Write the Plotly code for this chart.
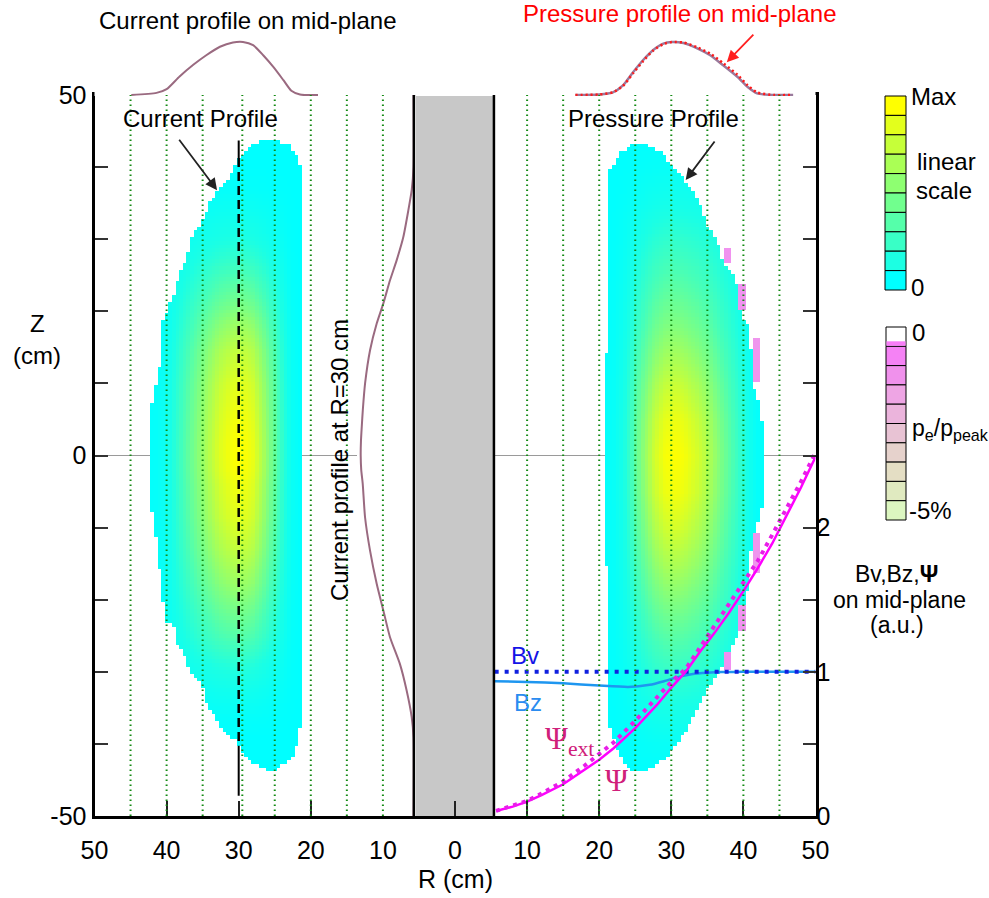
import numpy as np
import plotly.graph_objects as go

W, H = 989, 898
FONT = "Liberation Sans, Arial, sans-serif"
SERIF = "Liberation Serif, Times New Roman, serif"

# ---------------- data ----------------
# Normalised toroidal current density on the mid-plane (left half, R in cm, negative side)
R_cur_mid = [-44.9, -41.4, -40.0, -38.2, -36.3, -34.5, -32.6, -30.8, -29.4, -28.0,
             -26.6, -25.2, -23.8, -22.7, -21.5, -19.0]
j_cur_mid = [0.0, 0.04, 0.11, 0.35, 0.57, 0.75, 0.91, 0.99, 1.0, 0.94,
             0.75, 0.53, 0.28, 0.08, 0.01, 0.0]

# Normalised current density along Z at R = 30 cm
Z_cur_cut = [50.0, 40.0, 36.8, 34.0, 30.3, 27.1, 24.3, 21.1, 18.3, 14.6, 10.0, 6.3, 4.0, 2.0,
             0.0, -2.0, -3.9, -8.6, -13.2, -17.8, -21.5, -25.2, -28.9, -32.6, -36.3, -39.1, -50.0]
j_cur_cut = [0.0, 0.0, 0.034, 0.098, 0.193, 0.318, 0.445, 0.571, 0.697, 0.823, 0.917, 0.96, 0.98, 0.995,
             1.0, 0.99, 0.962, 0.917, 0.823, 0.697, 0.571, 0.445, 0.258, 0.13, 0.034, 0.0, 0.0]

# Normalised pressure on the mid-plane (right half): equilibrium and reference profile
R_pres_mid = [16.7, 20.0, 21.9, 23.3, 24.7, 26.1, 27.5, 28.9, 30.1, 31.7, 33.6, 35.4,
              37.2, 39.2, 40.6, 41.9, 44.2, 46.9]
p_mid = [0.0, 0.01, 0.05, 0.18, 0.43, 0.66, 0.85, 0.97, 1.0, 0.98, 0.88, 0.75,
         0.56, 0.34, 0.15, 0.03, 0.0, 0.0]
p_mid_ref = [0.0, 0.01, 0.05, 0.17, 0.41, 0.64, 0.84, 0.96, 1.0, 0.99, 0.90, 0.78,
             0.60, 0.38, 0.18, 0.05, 0.0, 0.0]

# Normalised pressure along Z through the pressure peak
Z_pres_cut = [45, 40, 35, 30, 25, 20, 15, 10, 5, 0, -5, -10, -15, -20, -25, -30, -35, -40, -45]
p_cut = [0.0, 0.05, 0.15, 0.30, 0.43, 0.56, 0.70, 0.84, 0.95, 1.0, 0.97, 0.88, 0.76, 0.62,
         0.47, 0.32, 0.18, 0.06, 0.0]

# Plasma boundary of the current distribution (Z, outer R, inner R)
Z_cur_edge = [43.8, 43.0, 42.0, 41.0, 39.5, 38.0, 36.5, 35.0, 33.0, 31.0,
              29.5, 27.0, 25.5, 24.0, 21.5, 20.0, 18.0, 15.0, 12.0, 8.5,
              6.5, 0.0, -6.5, -9.0, -15.0, -17.0, -23.0, -24.0, -26.0, -28.0,
              -30.0, -31.5, -33.0, -35.0, -36.0, -37.8, -38.6, -39.6, -41.2, -42.0,
              -42.8, -43.8]
R_cur_outer = [-26.7, -28.0, -29.0, -30.3, -30.6, -31.8, -33.0, -34.0, -34.7, -36.0,
               -36.8, -37.2, -38.2, -38.5, -39.3, -39.9, -40.7, -40.8, -41.0, -41.7,
               -42.1, -42.4, -42.4, -41.7, -41.2, -40.7, -40.3, -38.5, -38.5, -37.2,
               -36.8, -35.4, -34.7, -34.3, -33.3, -32.4, -31.5, -30.3, -29.6, -28.5,
               -27.8, -25.7]
R_cur_inner = [-24.7, -22.9, -22.2, -21.8, -21.3, -21.3, -21.3, -21.3, -21.3, -21.3,
               -21.3, -21.3, -21.3, -21.3, -21.3, -21.3, -21.3, -21.3, -21.3, -21.3,
               -21.3, -21.3, -21.3, -21.3, -21.3, -21.3, -21.3, -21.3, -21.3, -21.3,
               -21.3, -21.3, -21.3, -21.3, -21.3, -21.5, -21.6, -21.7, -22.3, -22.8,
               -23.8, -25.0]

# Plasma boundary of the pressure distribution (Z, outer R, inner R)
Z_pres_edge = [43.1, 42.0, 40.5, 39.6, 38.1, 36.3, 34.6, 32.1, 31.1, 29.3,
               27.1, 26.0, 25.0, 23.2, 20.4, 18.9, 18.1, 14.5, 14.0, 9.6,
               8.2, 5.4, 3.1, -5.8, -8.6, -13.3, -15.0, -15.5, -18.1, -22.6,
               -25.6, -27.4, -30.1, -31.5, -32.9, -35.8, -37.6, -39.6, -41.4, -42.8,
               -43.5]
R_pres_outer = [26.7, 28.6, 29.8, 30.4, 31.9, 33.3, 34.2, 34.7, 35.7, 36.5,
                37.1, 37.8, 38.5, 39.2, 39.6, 40.0, 40.6, 41.0, 41.0, 41.3,
                41.9, 42.4, 42.9, 42.9, 42.2, 41.0, 40.8, 40.8, 40.6, 39.9,
                38.9, 37.9, 36.5, 35.6, 34.7, 33.3, 32.4, 31.0, 29.6, 28.2,
                26.8]
R_pres_inner = [24.2, 23.0, 22.1, 21.5, 21.3, 21.1, 21.1, 21.1, 21.1, 21.1,
                21.1, 21.1, 21.1, 21.1, 21.1, 21.1, 21.1, 21.1, 20.7, 20.7,
                20.7, 20.7, 20.7, 20.7, 20.7, 20.7, 20.7, 21.1, 21.1, 21.1,
                21.1, 21.1, 21.1, 21.1, 21.1, 21.3, 21.5, 22.1, 22.8, 23.6,
                24.5]

# Small regions of negative electron pressure (percent of peak)
neg_R0 = [37.4, 39.2, 41.4, 41.4, 39.2, 37.4]
neg_R1 = [38.4, 40.3, 42.4, 42.4, 40.3, 38.4]
neg_Z0 = [26.9, 20.4, 10.1, -16.1, -24.0, -29.6]
neg_Z1 = [28.9, 23.6, 16.4, -10.8, -20.8, -27.5]
neg_pct = [-0.8, -0.8, -0.9, -0.9, -0.8, -0.7]

# Mid-plane fields (a.u.)
R_field = [5.5, 10, 15, 20, 24, 27, 29, 31, 33, 35, 37, 40, 45, 50]
Bz = [0.935, 0.93, 0.92, 0.905, 0.895, 0.91, 0.935, 0.965, 0.985, 0.993, 0.998, 1.0, 1.0, 1.0]
R_Bv = [5.5, 50]
Bv = [1.0, 1.0]
R_psi = [5.7, 8, 10, 12, 15, 18, 20, 22, 25, 28, 30, 32, 34, 36, 38, 40, 42, 44, 46, 48, 50]
psi = [0.035, 0.065, 0.10, 0.145, 0.22, 0.32, 0.39, 0.47, 0.61, 0.77, 0.89, 1.00,
       1.14, 1.27, 1.41, 1.56, 1.72, 1.89, 2.08, 2.28, 2.49]
psi_ext = [0.035, 0.07, 0.105, 0.155, 0.24, 0.35, 0.43, 0.51, 0.66, 0.82, 0.93, 1.02,
           1.17, 1.31, 1.46, 1.61, 1.77, 1.95, 2.13, 2.32, 2.52]

# Axis ticks
R_ticks = list(range(-50, 51, 10))
R_ticktext = [str(abs(v)) for v in R_ticks]
Z_ticks = list(range(-50, 51, 10))
Z_ticktext = ["-50", "", "", "", "", "0", "", "", "", "", "50"]
field_ticks = [0, 1, 2]

# Vertical reference field lines and chord position
field_line_R = [-45, -40, -35, -29.5, -25, -20, -15, -10, 10, 15, 20, 25, 30, 35, 40, 45]
chord_R = -30
chord_Z = [43.7, -47.2]
center_stack = [-5.7, 5.4]

# ---------------- 2-D maps ----------------
grid = np.arange(-50, 50.001, 0.5)
RR, ZZ = np.meshgrid(grid, grid)


def masked_map(z_edge, r_out, r_in, r_prof, v_prof, z_prof, g_prof):
    ze = np.asarray(z_edge)
    order = np.argsort(ze)
    ro = np.interp(grid, ze[order], np.asarray(r_out)[order])
    ri = np.interp(grid, ze[order], np.asarray(r_in)[order])
    lo = np.minimum(ro, ri)[:, None]
    hi = np.maximum(ro, ri)[:, None]
    inside = (RR >= lo) & (RR <= hi) & (ZZ >= ze.min()) & (ZZ <= ze.max())
    val = np.interp(grid, r_prof, v_prof)[None, :] * \
        np.interp(grid, np.asarray(z_prof)[::-1], np.asarray(g_prof)[::-1])[:, None]
    return np.where(inside, val, np.nan)


j_map = masked_map(Z_cur_edge, R_cur_outer, R_cur_inner, R_cur_mid, j_cur_mid,
                   Z_cur_cut, j_cur_cut)
p_map = masked_map(Z_pres_edge, R_pres_outer, R_pres_inner, R_pres_mid, p_mid,
                   Z_pres_cut, p_cut)
neg_map = np.full(RR.shape, np.nan)
for r0, r1, z0, z1, v in zip(neg_R0, neg_R1, neg_Z0, neg_Z1, neg_pct):
    neg_map[(RR >= r0) & (RR <= r1) & (ZZ >= z0) & (ZZ <= z1)] = v

# extent of the current map along the chord (the chord is dashed there)
col = np.argmin(np.abs(grid - chord_R))
rows_in = grid[~np.isnan(j_map[:, col])]
chord_in_top, chord_in_bot = rows_in.max() + 0.25, rows_in.min() - 0.25

main_scale = [[0.0, "#00ffff"], [0.2, "#1bffe4"], [0.4, "#47ffb8"],
              [0.6, "#7dff82"], [0.8, "#bbff44"], [1.0, "#ffff00"]]
neg_scale = [[0, "#dcf8c0"], [0.5, "#e8d0d0"], [0.85, "#f090f0"], [0.98, "#f880f8"], [1, "#ffffff"]]

# ---------------- figure ----------------
fig = go.Figure()

fig.add_trace(go.Heatmap(x=grid, y=grid, z=j_map, colorscale=main_scale, zmin=0, zmax=1,
                         showscale=False, hoverinfo="skip"))
fig.add_trace(go.Heatmap(x=grid, y=grid, z=p_map, colorscale=main_scale, zmin=0, zmax=1,
                         showscale=False, hoverinfo="skip"))
fig.add_trace(go.Heatmap(x=grid, y=grid, z=neg_map, colorscale=neg_scale, zmin=-5, zmax=0,
                         showscale=False, hoverinfo="skip"))

# chord at R = 30 cm: solid outside the map, dashed across it
fig.add_trace(go.Scatter(x=[chord_R, chord_R], y=[chord_Z[0], chord_in_top], mode="lines",
                         line=dict(color="black", width=2), hoverinfo="skip"))
fig.add_trace(go.Scatter(x=[chord_R, chord_R], y=[chord_in_bot, chord_Z[1]], mode="lines",
                         line=dict(color="black", width=2), hoverinfo="skip"))
fig.add_trace(go.Scatter(x=[chord_R, chord_R], y=[chord_in_top, chord_in_bot], mode="lines",
                         line=dict(color="black", width=2.5, dash="9px,5px"), hoverinfo="skip"))

# current profile along the chord
fig.add_trace(go.Scatter(x=j_cur_cut, y=Z_cur_cut, xaxis="x3", yaxis="y", mode="lines",
                         line=dict(color="#9a6a80", width=2, shape="spline", smoothing=0.6),
                         hoverinfo="skip"))
# mid-plane profiles above the frame
fig.add_trace(go.Scatter(x=R_cur_mid, y=j_cur_mid, xaxis="x", yaxis="y3", mode="lines",
                         line=dict(color="#9a6a80", width=2, shape="spline", smoothing=0.6),
                         hoverinfo="skip"))
fig.add_trace(go.Scatter(x=R_pres_mid, y=p_mid, xaxis="x", yaxis="y3", mode="lines",
                         line=dict(color="#9a7a9c", width=2.5, shape="spline", smoothing=0.6),
                         hoverinfo="skip"))
fig.add_trace(go.Scatter(x=R_pres_mid, y=p_mid_ref, xaxis="x", yaxis="y3", mode="lines",
                         line=dict(color="#ff1a1a", width=2.5, dash="2px,3px",
                                   shape="spline", smoothing=0.6),
                         hoverinfo="skip"))

# mid-plane fields
fig.add_trace(go.Scatter(x=R_field, y=Bz, xaxis="x", yaxis="y2", mode="lines",
                         line=dict(color="#1e96f0", width=2.5, shape="spline", smoothing=0.5),
                         hoverinfo="skip"))
fig.add_trace(go.Scatter(x=R_Bv, y=Bv, xaxis="x", yaxis="y2", mode="lines",
                         line=dict(color="#1020e0", width=4, dash="4px,6px"), hoverinfo="skip"))
fig.add_trace(go.Scatter(x=R_psi, y=psi, xaxis="x", yaxis="y2", mode="lines",
                         line=dict(color="#ff00ff", width=2.5), hoverinfo="skip"))
fig.add_trace(go.Scatter(x=R_psi, y=psi_ext, xaxis="x", yaxis="y2", mode="lines",
                         line=dict(color="#e81ee8", width=4, dash="4px,5px"), hoverinfo="skip"))

# ---------------- layout geometry (pixels -> paper) ----------------
def fx(px):
    return px / W


def fy(py):
    return 1 - py / H


X0, X1 = 94.5, 815.5
Y0, Y1 = 95.0, 816.0

shapes = []
# centre stack
shapes.append(dict(type="rect", xref="x", yref="y", x0=center_stack[0], x1=center_stack[1],
                   y0=-50, y1=50, fillcolor="#c8c8c8", line=dict(width=0), layer="below"))
for r in center_stack:
    shapes.append(dict(type="line", xref="x", yref="y", x0=r, x1=r, y0=-50, y1=50,
                       line=dict(color="black", width=2.5)))
# mid-plane line
shapes.append(dict(type="line", xref="x", yref="y", x0=-50, x1=center_stack[0], y0=0, y1=0,
                   line=dict(color="#9a9a9a", width=1), layer="below"))
shapes.append(dict(type="line", xref="x", yref="y", x0=center_stack[1], x1=50, y0=0, y1=0,
                   line=dict(color="#9a9a9a", width=1), layer="below"))
# vertical field lines
for r in field_line_R:
    shapes.append(dict(type="line", xref="x", yref="y", x0=r, x1=r, y0=-50, y1=50,
                       line=dict(color="#138a13", width=2, dash="1.5px,3.5px")))

# colour keys
key1_colors = ["#ffff00", "#e3ff1c", "#c6ff39", "#aaff55", "#8eff71",
               "#71ff8e", "#55ffaa", "#39ffc6", "#1cffe3", "#00ffff"]
k_top, k_bot = 96.0, 290.0
step = (k_bot - k_top) / len(key1_colors)
for i, c in enumerate(key1_colors):
    shapes.append(dict(type="rect", xref="paper", yref="paper", x0=fx(885), x1=fx(906),
                       y0=fy(k_top + (i + 1) * step), y1=fy(k_top + i * step),
                       fillcolor=c, line=dict(color="black", width=1)))

key2_colors = ["#ffffff", "#f582f5", "#f091ec", "#eea5e4", "#ebb4dc",
               "#e8c3d4", "#e6d2cc", "#e4dec4", "#e0eac0", "#dcf6c0"]
k_top, k_bot = 327.0, 520.0
step = (k_bot - k_top) / len(key2_colors)
for i, c in enumerate(key2_colors):
    shapes.append(dict(type="rect", xref="paper", yref="paper", x0=fx(886), x1=fx(906),
                       y0=fy(k_top + (i + 1) * step), y1=fy(k_top + i * step),
                       fillcolor=c, line=dict(color="black", width=1)))
shapes.append(dict(type="rect", xref="paper", yref="paper", x0=fx(886.5), x1=fx(905.5),
                   y0=fy(k_top + step - 0.5), y1=fy(k_top + step - 5),
                   fillcolor="#f87cf8", line=dict(width=0)))


def txt(text, x, y, size=24, color="black", family=FONT, xanchor="center", angle=0):
    return dict(text=text, x=fx(x), y=fy(y), xref="paper", yref="paper", showarrow=False,
                xanchor=xanchor, yanchor="middle", textangle=angle,
                font=dict(size=size, color=color, family=family))


def arrow(x, y, yref, ax, ay, color):
    return dict(x=x, y=y, xref="x", yref=yref, ax=ax, ay=ay, showarrow=True, text="",
                arrowhead=2, arrowsize=1.3, arrowwidth=1.8, arrowcolor=color,
                font=dict(size=12))


annotations = [
    txt("Current profile on mid-plane", 247, 20),
    txt("Pressure profile on mid-plane", 680, 14, color="#ff0000"),
    txt("Current Profile", 200, 118),
    txt("Pressure Profile", 653, 118),
    txt("Current profile at R=30 cm", 339, 460, angle=-90),
    txt("Z", 37, 323),
    txt("(cm)", 37, 355),
    txt("R (cm)", 455, 879, size=25),
    txt("Max", 909, 97, xanchor="left"),
    txt("linear", 915, 161, xanchor="left"),
    txt("scale", 914, 190, xanchor="left"),
    txt("0", 909, 287, xanchor="left"),
    txt("0", 910, 332, xanchor="left"),
    txt("p<sub>e</sub>/p<sub>peak</sub>", 910, 430, size=23, xanchor="left"),
    txt("-5%", 907, 510, xanchor="left"),
    txt("Bv,Bz,<b>Ψ</b>", 896, 574, size=23),
    txt("on mid-plane", 899, 600, size=23),
    txt("(a.u.)", 897, 625, size=23),
    txt("Bv", 525, 655, size=24, color="#1414e6"),
    txt("Bz", 528, 702, size=24, color="#2a8cf0"),
    txt("Ψ<sub>ext</sub>", 569, 741, size=31, color="#d0207a", family=SERIF),
    txt("Ψ", 616, 780, size=31, color="#d0207a", family=SERIF),
    arrow(-33.0, 36.8, "y", -39, -52, "#222222"),
    arrow(32.0, 38.2, "y", 30, -40, "#222222"),
    arrow(37.7, 0.62, "y3", 28, -29, "#ff2020"),
]

axis_font = dict(family=FONT, size=25, color="black")

fig.update_layout(
    width=W, height=H,
    margin=dict(l=0, r=0, t=0, b=0, autoexpand=False),
    paper_bgcolor="white", plot_bgcolor="white",
    showlegend=False,
    xaxis=dict(domain=[fx(X0), fx(X1)], range=[-50, 50], tickvals=R_ticks, ticktext=R_ticktext,
               ticks="inside", ticklen=15, tickwidth=2, tickcolor="#222222",
               showline=True, linewidth=3, linecolor="black", mirror=True,
               showgrid=False, zeroline=False, tickfont=axis_font, ticklabelstandoff=10,
               anchor="y", automargin=False),
    xaxis4=dict(overlaying="x", side="top", anchor="y", range=[-50, 50], tickvals=[-10, 0],
                ticks="inside", ticklen=15, tickwidth=2, tickcolor="#222222",
                showticklabels=False, showgrid=False, zeroline=False, showline=False,
                automargin=False),
    yaxis=dict(domain=[fy(Y1), fy(Y0)], range=[-50, 50], tickvals=Z_ticks, ticktext=Z_ticktext,
               ticks="inside", ticklen=13, tickwidth=2, tickcolor="#333333",
               showline=True, linewidth=3, linecolor="black", mirror="ticks",
               showgrid=False, zeroline=False, tickfont=axis_font, anchor="x",
               automargin=False),
    yaxis2=dict(overlaying="y", side="right", anchor="x", range=[0, 5], tickvals=field_ticks,
                ticks="", showgrid=False, zeroline=False, showline=False,
                tickfont=axis_font, automargin=False),
    yaxis3=dict(domain=[fy(96), fy(40)], anchor="x", range=[-1 / 53, 55 / 53],
                visible=False, showgrid=False, zeroline=False, automargin=False),
    xaxis3=dict(domain=[fx(357), fx(416)], anchor="y", range=[56.5 / 52.8, -2.5 / 52.8],
                visible=False, showgrid=False, zeroline=False, automargin=False),
    shapes=shapes,
    annotations=annotations,
)

fig.write_html("out.html")
